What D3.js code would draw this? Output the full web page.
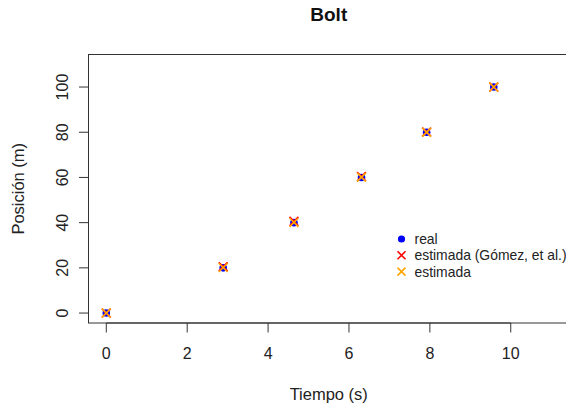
<!DOCTYPE html>
<html>
<head>
<meta charset="utf-8">
<script src="https://cdn.jsdelivr.net/npm/d3@7"></script>
<style>
  body { margin: 0; background: #fff; }
  svg { font-family: "Liberation Sans", Arial, sans-serif; }
</style>
</head>
<body>
<svg id="chart" width="566" height="406"></svg>
<script>
// Bolt 100 m splits
const tiempo = [0, 2.89, 4.64, 6.31, 7.92, 9.58];
const posicionReal = [0, 20, 40, 60, 80, 100];
const posicionGomez = [0, 20.5, 40.6, 60.4, 80.1, 100];
const posicionEstimada = [0, 20.1, 40.1, 60.1, 80, 100];
const xTicks = [0, 2, 4, 6, 8, 10];
const yTicks = [0, 20, 40, 60, 80, 100];
const legendLabels = ["real", "estimada (Gómez, et al.)", "estimada"];

const svg = d3.select("#chart");
const box = { left: 88.5, top: 54.5, right: 569, bottom: 323 };

// R style 4% padding
const x = d3.scaleLinear().domain([-0.44, 11.44]).range([box.left, box.right]);
const y = d3.scaleLinear().domain([-4.4, 114.4]).range([box.bottom, box.top]);

const axisColor = "#333";

// plot box
svg.append("rect")
    .attr("x", box.left).attr("y", box.top)
    .attr("width", box.right - box.left).attr("height", box.bottom - box.top)
    .attr("fill", "none").attr("stroke", axisColor).attr("stroke-width", 1);

// x axis
const xAxis = svg.append("g").attr("transform", `translate(0,${box.bottom})`);
xAxis.append("line")
    .attr("x1", x(xTicks[0])).attr("x2", x(xTicks[xTicks.length - 1]))
    .attr("stroke", axisColor);
xAxis.selectAll(".tick").data(xTicks).enter().append("line")
    .attr("x1", d => x(d)).attr("x2", d => x(d))
    .attr("y1", 0).attr("y2", 9.5)
    .attr("stroke", axisColor);
xAxis.selectAll("text").data(xTicks).enter().append("text")
    .attr("x", d => x(d)).attr("y", 36)
    .attr("text-anchor", "middle")
    .attr("font-size", 16)
    .attr("fill", "#222")
    .text(d => d);

// y axis
const yAxis = svg.append("g").attr("transform", `translate(${box.left},0)`);
yAxis.append("line")
    .attr("y1", y(yTicks[0])).attr("y2", y(yTicks[yTicks.length - 1]))
    .attr("stroke", axisColor);
yAxis.selectAll(".tick").data(yTicks).enter().append("line")
    .attr("y1", d => y(d)).attr("y2", d => y(d))
    .attr("x1", 0).attr("x2", -9.5)
    .attr("stroke", axisColor);
yAxis.selectAll("text").data(yTicks).enter().append("text")
    .attr("transform", d => `translate(-21,${y(d)}) rotate(-90)`)
    .attr("text-anchor", "middle")
    .attr("font-size", 16)
    .attr("fill", "#222")
    .text(d => d);

// titles
svg.append("text")
    .attr("x", (box.left + box.right) / 2).attr("y", 21)
    .attr("text-anchor", "middle")
    .attr("font-size", 19).attr("font-weight", "bold")
    .attr("fill", "#111")
    .text("Bolt");
svg.append("text")
    .attr("x", (box.left + box.right) / 2).attr("y", 400)
    .attr("text-anchor", "middle")
    .attr("font-size", 16.5)
    .attr("fill", "#222")
    .text("Tiempo (s)");
svg.append("text")
    .attr("transform", `translate(24,${(box.top + box.bottom) / 2}) rotate(-90)`)
    .attr("text-anchor", "middle")
    .attr("font-size", 16.5)
    .attr("fill", "#222")
    .text("Posición (m)");

// markers
const cross = (g, cx, cy, color, r) => {
    g.append("path")
        .attr("d", `M${cx - r},${cy - r}L${cx + r},${cy + r}M${cx - r},${cy + r}L${cx + r},${cy - r}`)
        .attr("stroke", color).attr("stroke-width", 1.6).attr("fill", "none");
};

const pts = svg.append("g");
pts.selectAll("circle").data(tiempo).enter().append("circle")
    .attr("cx", (d, i) => x(d)).attr("cy", (d, i) => y(posicionReal[i]))
    .attr("r", 3.8).attr("fill", "#0000ff");
tiempo.forEach((t, i) => cross(pts, x(t), y(posicionGomez[i]), "#ff0000", 4.4));
tiempo.forEach((t, i) => cross(pts, x(t), y(posicionEstimada[i]), "#ffa500", 4.4));

// legend (no box)
const colors = ["#0000ff", "#ff0000", "#ffa500"];
const leg = svg.append("g").attr("transform", "translate(401.5,239)");
legendLabels.forEach((lab, i) => {
    const row = leg.append("g").attr("transform", `translate(0,${i * 16.3})`);
    if (i === 0) {
        row.append("circle").attr("r", 3.6).attr("fill", colors[i]);
    } else {
        cross(row, 0, 0, colors[i], 4);
    }
    row.append("text")
        .attr("x", 13).attr("y", 5)
        .attr("font-size", 13.9)
        .attr("fill", "#222")
        .text(lab);
});
</script>
</body>
</html>
